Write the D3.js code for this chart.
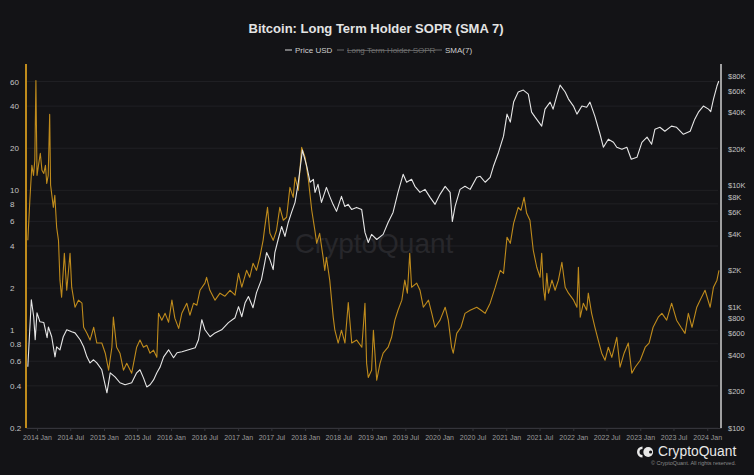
<!DOCTYPE html>
<html><head><meta charset="utf-8">
<script src="https://cdn.jsdelivr.net/npm/d3@7"></script>
<style>
html,body{margin:0;padding:0;background:#131316;}
svg{display:block;font-family:"Liberation Sans",Arial,Helvetica,sans-serif;}
</style></head><body>
<svg id="chart" width="754" height="475"></svg>
<script>
const titleText = "Bitcoin: Long Term Holder SOPR (SMA 7)";
const legendLabels = ["Price USD", "Long Term Holder SOPR", "SMA(7)"];

const priceDates = ["2013-11-12","2013-12-01","2013-12-14","2013-12-22","2014-01-01","2014-01-17","2014-02-07","2014-02-25","2014-03-04","2014-03-22","2014-04-09","2014-04-18","2014-05-06","2014-05-24","2014-06-12","2014-07-09","2014-07-27","2014-08-24","2014-09-12","2014-09-30","2014-10-17","2014-11-05","2014-11-23","2014-12-20","2015-01-17","2015-02-04","2015-03-02","2015-03-29","2015-04-26","2015-06-01","2015-06-28","2015-07-16","2015-08-04","2015-08-22","2015-09-09","2015-09-28","2015-10-16","2015-11-03","2015-11-22","2015-12-19","2016-01-15","2016-02-03","2016-03-01","2016-04-06","2016-05-12","2016-05-30","2016-06-17","2016-07-04","2016-08-01","2016-08-28","2016-10-03","2016-11-09","2016-12-15","2017-01-03","2017-01-21","2017-02-08","2017-02-26","2017-03-23","2017-04-11","2017-05-08","2017-05-26","2017-06-05","2017-06-23","2017-07-11","2017-07-20","2017-08-07","2017-08-26","2017-09-13","2017-10-01","2017-10-19","2017-11-07","2017-11-25","2017-12-09","2017-12-17","2018-01-10","2018-01-28","2018-02-15","2018-02-24","2018-03-12","2018-03-31","2018-04-27","2018-05-15","2018-06-02","2018-06-21","2018-07-18","2018-08-05","2018-08-23","2018-09-11","2018-10-08","2018-11-05","2018-11-23","2018-12-11","2018-12-29","2019-01-26","2019-03-02","2019-03-29","2019-04-25","2019-05-22","2019-06-19","2019-07-08","2019-08-04","2019-08-22","2019-09-19","2019-10-16","2019-11-13","2019-12-10","2020-01-06","2020-02-03","2020-03-01","2020-03-13","2020-03-28","2020-04-24","2020-05-21","2020-06-18","2020-07-24","2020-08-12","2020-09-08","2020-10-05","2020-10-23","2020-11-20","2020-12-17","2021-01-05","2021-01-23","2021-02-10","2021-03-07","2021-04-04","2021-05-01","2021-05-19","2021-06-07","2021-07-13","2021-07-31","2021-08-28","2021-09-13","2021-10-05","2021-10-21","2021-11-18","2021-12-06","2022-01-02","2022-01-21","2022-02-17","2022-03-15","2022-04-02","2022-04-29","2022-05-16","2022-05-27","2022-06-14","2022-07-11","2022-08-08","2022-08-26","2022-09-23","2022-10-20","2022-11-13","2022-12-14","2023-01-10","2023-02-07","2023-03-04","2023-03-22","2023-04-18","2023-05-15","2023-06-20","2023-07-18","2023-08-24","2023-09-30","2023-10-25","2023-11-14","2023-12-11","2024-01-08","2024-01-20","2024-02-04","2024-02-23","2024-03-04"];
const priceValues = [320,1140,826,534,890,750,740,555,680,565,386,467,441,565,645,621,608,534,467,386,344,365,344,302,195,285,264,236,227,236,285,302,259,218,227,249,285,319,386,441,379,417,425,441,458,534,781,645,565,608,645,738,811,1000,826,1079,1211,981,1306,1671,2311,2793,2444,2022,2793,3577,4582,3793,4943,5980,7241,10600,15490,19500,14350,10600,11206,8750,10190,7241,9610,8110,6970,6100,8110,6700,6970,6331,6580,6331,4090,3380,3940,3577,3940,4943,5980,8750,12330,10600,11206,9810,8750,9264,7960,6970,8430,9810,8750,5030,6700,9264,9810,9264,11640,11860,10600,11640,14350,18750,25410,38640,33200,48530,58750,60960,56480,40100,36480,30760,42474,48530,42474,56000,67000,58750,51380,45000,38640,45000,44000,48530,37000,30100,26360,20610,24000,22630,20610,19836,20610,16398,17020,22630,24950,21830,29026,30100,27930,30760,30100,26360,27930,35112,40100,45000,42474,40500,51380,65800,72400];

const soprDates = ["2013-11-12","2013-11-23","2013-12-04","2013-12-13","2013-12-20","2013-12-26","2014-01-01","2014-01-09","2014-01-19","2014-01-28","2014-02-07","2014-02-16","2014-02-23","2014-03-03","2014-03-11","2014-03-16","2014-03-31","2014-04-08","2014-04-18","2014-04-28","2014-05-06","2014-05-15","2014-05-30","2014-06-12","2014-06-30","2014-07-09","2014-07-27","2014-08-15","2014-09-03","2014-09-12","2014-09-30","2014-10-17","2014-11-06","2014-11-23","2014-12-20","2015-01-08","2015-01-26","2015-02-13","2015-02-21","2015-03-11","2015-03-29","2015-04-17","2015-05-05","2015-06-01","2015-06-28","2015-07-16","2015-08-04","2015-08-22","2015-09-09","2015-09-28","2015-10-16","2015-10-25","2015-11-12","2015-11-30","2015-12-19","2016-01-06","2016-01-22","2016-02-12","2016-02-29","2016-03-27","2016-04-13","2016-05-03","2016-05-21","2016-06-07","2016-07-04","2016-07-13","2016-07-31","2016-08-28","2016-09-24","2016-10-21","2016-11-18","2016-12-15","2017-01-03","2017-01-21","2017-02-16","2017-03-05","2017-03-23","2017-04-11","2017-04-29","2017-05-17","2017-05-26","2017-06-10","2017-06-23","2017-07-11","2017-07-29","2017-08-16","2017-09-04","2017-09-22","2017-10-10","2017-10-28","2017-11-07","2017-11-25","2017-12-13","2018-01-01","2018-01-19","2018-02-06","2018-02-23","2018-03-05","2018-03-21","2018-04-09","2018-04-18","2018-04-27","2018-05-15","2018-06-03","2018-06-12","2018-06-30","2018-07-18","2018-08-06","2018-08-24","2018-09-12","2018-10-09","2018-11-06","2018-11-23","2018-12-02","2018-12-11","2018-12-29","2019-01-08","2019-01-26","2019-02-13","2019-03-02","2019-03-29","2019-04-17","2019-05-05","2019-05-22","2019-06-12","2019-06-28","2019-07-12","2019-07-25","2019-08-04","2019-09-01","2019-09-19","2019-10-07","2019-11-04","2019-11-22","2019-12-10","2020-01-06","2020-02-03","2020-02-20","2020-03-09","2020-03-18","2020-04-06","2020-04-29","2020-05-21","2020-06-18","2020-07-24","2020-08-17","2020-09-08","2020-10-05","2020-11-02","2020-11-29","2020-12-17","2021-01-05","2021-01-23","2021-02-10","2021-03-07","2021-03-22","2021-04-08","2021-04-22","2021-05-10","2021-05-28","2021-06-16","2021-07-04","2021-07-13","2021-07-22","2021-07-31","2021-08-10","2021-08-19","2021-09-07","2021-09-24","2021-10-12","2021-10-31","2021-11-18","2021-12-06","2022-01-03","2022-01-21","2022-01-29","2022-02-08","2022-02-25","2022-03-15","2022-03-24","2022-04-11","2022-04-29","2022-05-17","2022-06-05","2022-06-23","2022-07-11","2022-07-30","2022-08-26","2022-09-13","2022-10-05","2022-10-28","2022-11-16","2022-12-04","2023-01-01","2023-01-28","2023-02-18","2023-03-12","2023-04-09","2023-04-29","2023-05-25","2023-06-21","2023-07-18","2023-08-11","2023-09-02","2023-09-20","2023-10-10","2023-11-05","2023-11-23","2023-12-20","2024-01-17","2024-02-04","2024-02-23","2024-03-05"];
const soprValues = [4.4,8.5,15.1,12.8,16.4,61,12.8,15.1,18.4,13.9,13.2,15.1,11.2,12.8,34.9,10.9,7.56,9.2,5.44,4.39,2.28,1.72,3.55,1.93,3.55,2.03,1.46,1.64,1.56,1.05,0.95,0.85,1.05,0.81,0.81,0.685,0.518,0.756,1.24,0.756,0.685,0.518,0.58,0.493,0.756,0.85,0.756,0.78,0.685,0.72,0.64,1.32,1.18,1.32,1.14,1.64,1.22,1.03,1.32,1.56,1.28,1.56,1.51,1.93,2.17,2.39,1.93,1.64,1.84,1.75,1.93,1.78,2.55,2.03,2.68,2.39,3.01,2.68,3.32,4.39,5.44,7.56,4.93,4.39,5.18,7.56,6.11,6.42,10.5,8.91,12.4,10,20.3,17.2,11.8,7.2,5.18,4.18,4.93,3.32,2.68,3.32,2.28,1.24,1.0,0.81,1.0,0.81,1.58,0.81,0.85,0.756,1.56,0.58,0.46,0.518,1.0,0.44,0.58,0.685,0.756,0.89,1.18,1.39,1.64,2.28,1.84,3.55,2.03,2.17,1.93,1.46,1.64,1.32,1.05,1.18,1.46,1.18,0.756,0.685,0.95,1.05,1.32,1.39,1.46,1.39,1.32,1.56,2.03,2.68,2.55,4.62,4.18,5.81,7.56,7.2,8.91,6.85,6.11,3.73,2.82,2.39,3.55,2.03,1.64,2.55,1.84,2.28,1.93,2.28,3.06,2.03,1.84,1.64,1.46,2.82,1.24,1.56,1.39,1.84,1.32,1.05,0.85,0.685,0.61,0.756,0.64,0.89,0.544,0.685,0.81,0.493,0.544,0.61,0.756,0.81,1.05,1.24,1.32,1.18,1.56,1.18,1.05,0.95,1.32,1.05,1.46,1.64,1.93,1.46,2.03,2.28,2.68];

const soprTicks = [0.2,0.4,0.6,0.8,1,2,4,6,8,10,20,40,60];
const priceTicks = [100,200,400,600,800,1000,2000,4000,6000,8000,10000,20000,40000,60000,80000];
const priceTickLabels = ["$100","$200","$400","$600","$800","$1K","$2K","$4K","$6K","$8K","$10K","$20K","$40K","$60K","$80K"];
const xTickDates = ["2014-01-01","2014-07-01","2015-01-01","2015-07-01","2016-01-01","2016-07-01","2017-01-01","2017-07-01","2018-01-01","2018-07-01","2019-01-01","2019-07-01","2020-01-01","2020-07-01","2021-01-01","2021-07-01","2022-01-01","2022-07-01","2023-01-01","2023-07-01","2024-01-01"];
const xTickLabels = ["2014 Jan","2014 Jul","2015 Jan","2015 Jul","2016 Jan","2016 Jul","2017 Jan","2017 Jul","2018 Jan","2018 Jul","2019 Jan","2019 Jul","2020 Jan","2020 Jul","2021 Jan","2021 Jul","2022 Jan","2022 Jul","2023 Jan","2023 Jul","2024 Jan"];

const parse = d3.utcParse("%Y-%m-%d");
const ORANGE = "#bf8b1c";
const BG = "#131316";
const svg = d3.select("#chart");
const L = 26, R = 721, T = 64, B = 428;

const x = d3.scaleUtc().domain([parse("2013-11-02"), parse("2024-03-16")]).range([L, R]);
const yL = d3.scaleLog().domain([0.2, 80]).range([B, T]);
const yR = d3.scaleLog().domain([100, 100000]).range([B, T]);

svg.append("rect").attr("width", 754).attr("height", 475).attr("fill", BG);

// title
svg.append("text").attr("x", 376).attr("y", 33).attr("text-anchor", "middle")
  .attr("font-size", 13).attr("font-weight", "bold").attr("fill", "#e4e4e4").text(titleText);

// legend
const leg = svg.append("g").attr("font-size", 8);
const legPos = [[285, "#d8d8d8", "#cfcfcf", false], [337, "#6a6a6a", "#6e6e6e", true], [435, "#6a6a6a", "#cfcfcf", false]];
legendLabels.forEach((lab, i) => {
  const [lx, mc, tc, strike] = legPos[i];
  leg.append("line").attr("x1", lx).attr("x2", lx + 7).attr("y1", 50).attr("y2", 50).attr("stroke", mc).attr("stroke-width", 1);
  const t = leg.append("text").attr("x", lx + 10).attr("y", 53).attr("fill", tc).text(lab);
  if (strike) {
    const w = t.node().getComputedTextLength();
    leg.append("line").attr("x1", lx + 10).attr("x2", lx + 10 + w).attr("y1", 50.5).attr("y2", 50.5).attr("stroke", tc).attr("stroke-width", 0.8);
  }
});

// gridlines
svg.append("g").selectAll("line").data(soprTicks).join("line")
  .attr("x1", L).attr("x2", R - 3).attr("y1", d => yL(d)).attr("y2", d => yL(d))
  .attr("stroke", "#202024").attr("stroke-width", 1);

// watermark
svg.append("text").attr("x", 374).attr("y", 253).attr("text-anchor", "middle")
  .attr("font-size", 28).attr("fill", "#27272b").text("CryptoQuant");

// left axis
svg.append("g").attr("transform", `translate(${L},0)`)
  .call(d3.axisLeft(yL).tickValues(soprTicks).tickFormat(d3.format("~g")).tickSize(0))
  .call(g => g.select(".domain").remove())
  .call(g => g.selectAll("text").attr("x", -16).attr("text-anchor", "start").attr("dy", "0.32em")
    .attr("fill", "#c4c4c4").attr("font-size", 8).attr("font-family", null));

// right axis
svg.append("g").attr("transform", `translate(${R},0)`)
  .call(d3.axisRight(yR).tickValues(priceTicks).tickFormat((d, i) => priceTickLabels[i]).tickSize(0))
  .call(g => g.select(".domain").remove())
  .call(g => g.selectAll("text").attr("x", 7).attr("text-anchor", "start")
    .attr("fill", "#c4c4c4").attr("font-size", 7.5).attr("font-family", null));

// bottom axis
svg.append("g").attr("transform", `translate(0,${B})`)
  .call(d3.axisBottom(x).tickValues(xTickDates.map(parse)).tickFormat((d, i) => xTickLabels[i]).tickSize(3).tickPadding(4).tickSizeOuter(0))
  .call(g => g.select(".domain").attr("stroke", "#34343a"))
  .call(g => g.selectAll(".tick line").attr("stroke", "#34343a"))
  .call(g => g.selectAll("text").attr("fill", "#9a9a9a").attr("font-size", 7).attr("font-family", null));

// series
const soprData = soprDates.map((d, i) => [parse(d), soprValues[i]]);
const priceData = priceDates.map((d, i) => [parse(d), priceValues[i]]);

svg.append("path").datum(soprData)
  .attr("d", d3.line().x(d => x(d[0])).y(d => yL(d[1])))
  .attr("fill", "none").attr("stroke", ORANGE).attr("stroke-width", 1.1).attr("stroke-linejoin", "round");

svg.append("path").datum(priceData)
  .attr("d", d3.line().x(d => x(d[0])).y(d => yR(d[1])))
  .attr("fill", "none").attr("stroke", "#e6e6e6").attr("stroke-width", 1.1).attr("stroke-linejoin", "round");

// axis lines coloured by series
svg.append("line").attr("x1", L).attr("x2", L).attr("y1", T).attr("y2", B).attr("stroke", ORANGE).attr("stroke-width", 2);
svg.append("line").attr("x1", R).attr("x2", R).attr("y1", T).attr("y2", B).attr("stroke", "#d0d0d0").attr("stroke-width", 1.5);

// logo
const logo = svg.append("g").attr("fill", "#e8e8e8");
logo.append("path").attr("d", "M642.5,446.5 A5.5,5.5 0 0 0 642.5,457.5 L642.5,455 A3,3 0 0 1 642.5,449 Z");
logo.append("circle").attr("cx", 648.2).attr("cy", 452).attr("r", 4.9);
logo.append("circle").attr("cx", 650.6).attr("cy", 452).attr("r", 1.6).attr("fill", BG);
logo.append("text").attr("x", 658).attr("y", 456).attr("font-size", 13.8).text("CryptoQuant");
logo.append("text").attr("x", 736).attr("y", 465).attr("text-anchor", "end").attr("font-size", 5.5).attr("fill", "#8a8a8a").text("© CryptoQuant. All rights reserved.");
</script>
</body></html>
